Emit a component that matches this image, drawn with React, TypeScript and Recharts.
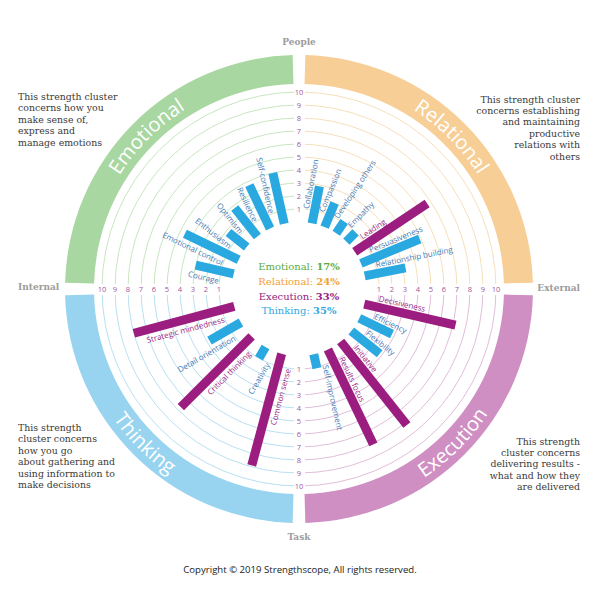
import React from 'react';
import {
  RadialBarChart,
  RadialBar,
  PolarAngleAxis,
  PolarRadiusAxis,
  PolarGrid,
  PieChart,
  Pie,
  Cell,
} from 'recharts';

// ---------------- data ----------------
const emotionalNames = ['Courage', 'Emotional control', 'Enthusiasm', 'Optimism', 'Resilience', 'Self-confidence'];
const emotionalScores = [3, 4.6, 1.8, 2.8, 3.7, 4];

const relationalNames = ['Collaboration', 'Compassion', 'Developing others', 'Empathy', 'Leading', 'Persuasiveness', 'Relationship building'];
const relationalScores = [2.9, 2, 1.1, 1, 6.7, 4.9, 3.2];

const executionNames = ['Decisiveness', 'Efficiency', 'Flexibility', 'Initiative', 'Results focus', 'Self-improvement'];
const executionScores = [7.2, 2.8, 2.8, 8.2, 8.1, 1.1];

const thinkingNames = ['Common sense', 'Creativity', 'Critical thinking', 'Detail orientation', 'Strategic mindedness'];
const thinkingScores = [8.9, 1, 7.7, 2.8, 8];

const topStrengths = ['Leading', 'Decisiveness', 'Initiative', 'Results focus', 'Common sense', 'Critical thinking', 'Strategic mindedness'];

const clusterNames = ['Emotional', 'Relational', 'Execution', 'Thinking'];
const clusterShares = [17, 24, 33, 35];

const scaleTicks = [1, 2, 3, 4, 5, 6, 7, 8, 9, 10];

const descEmotional = ['This strength cluster', 'concerns how you', 'make sense of,', 'express and', 'manage emotions'];
const descRelational = ['This strength cluster', 'concerns establishing', 'and maintaining', 'productive', 'relations with', 'others'];
const descThinking = ['This strength', 'cluster concerns', 'how you go', 'about gathering and', 'using information to', 'make decisions'];
const descExecution = ['This strength', 'cluster concerns', 'delivering results -', 'what and how they', 'are delivered'];

// ---------------- styles ----------------
const W = 600;
const H = 600;
const CX = 299;
const CY = 289;
const R0 = 67;
const R10 = 197;
const BAND_IN = 205;
const BAND_OUT = 234;
const PAD = 3.1;

const BLUE = '#2aa9e0';
const PURPLE = '#9b1d7f';
const BLUE_TEXT = '#3f79b4';
const TICK_COLOR = '#a0559a';
const bandColors = ['#a9d7a1', '#f7cf96', '#cf8fc3', '#98d4f0'];
const ringColors = ['#c2e2ba', '#f5dbb2', '#ddb6d5', '#b0dcef'];
const shareColors = ['#5aac45', '#f0a234', '#962381', '#34a8df'];
const SERIF = '"DejaVu Serif", serif';
const SANS = '"Open Sans", sans-serif';

const GAP_L = 5;
const GAP_R = 6;

const quadrants = [
  { names: emotionalNames, scores: emotionalScores, base: 180, axisAngle: 180,
    clip: { left: 0, top: 0, width: CX - GAP_L, height: CY - GAP_L } },
  { names: relationalNames, scores: relationalScores, base: 90, axisAngle: 90,
    clip: { left: CX + GAP_R, top: 0, width: W - CX - GAP_R, height: CY - GAP_L } },
  { names: executionNames, scores: executionScores, base: 0, axisAngle: 0,
    clip: { left: CX + GAP_R, top: CY + GAP_R, width: W - CX - GAP_R, height: H - CY - GAP_R } },
  { names: thinkingNames, scores: thinkingScores, base: -90, axisAngle: -90,
    clip: { left: 0, top: CY + GAP_R, width: CX - GAP_L, height: H - CY - GAP_R } },
];

const tickRenderer = (props: any) => (
  <text
    x={props.x}
    y={props.y}
    textAnchor="middle"
    dominantBaseline="central"
    fontSize={7.5}
    fontFamily={SANS}
    fill={TICK_COLOR}
  >
    {props.payload?.value}
  </text>
);

const emptyShape = () => <g />;

const barShape = (props: any) => {
  const { cx, cy, innerRadius, outerRadius, startAngle, endAngle, payload } = props;
  const mid = (startAngle + endAngle) / 2;
  const rad = (mid * Math.PI) / 180;
  const ux = Math.cos(rad);
  const uy = -Math.sin(rad);
  const nx = -uy;
  const ny = ux;
  const hw = 4.5;
  const p = (r: number, s: number) => `${cx + r * ux + s * hw * nx},${cy + r * uy + s * hw * ny}`;
  const pts = [p(innerRadius, -1), p(outerRadius, -1), p(outerRadius, 1), p(innerRadius, 1)].join(' ');
  const name: string = payload?.name ?? '';
  const top = topStrengths.includes(name);
  const tx = -Math.sin(rad);
  const ty = -Math.cos(rad);
  const lr = innerRadius + 13;
  const off = 9.5;
  const lx = cx + lr * ux + off * tx;
  const ly = cy + lr * uy + off * ty;
  const right = ux >= 0;
  const rot = right ? -mid : 180 - mid;
  return (
    <g>
      <polygon points={pts} fill={top ? PURPLE : BLUE} />
      <text
        x={lx}
        y={ly}
        transform={`rotate(${rot} ${lx} ${ly})`}
        textAnchor={right ? 'start' : 'end'}
        dominantBaseline="central"
        fontSize={8}
        fontFamily={SANS}
        fill={top ? PURPLE : BLUE_TEXT}
      >
        {name}
      </text>
    </g>
  );
};

const QuadrantChart = ({ q, idx, grid }: { q: any; idx: number; grid: boolean }) => {
  const n = q.names.length;
  const s = 90 / (n + 1);
  // recharts places centric bars one band further toward the start angle,
  // so the category range is shifted back by one band to land bars at (i+1)*s.
  const start = q.base - 1.5 * s;
  const end = q.base - 90 - 0.5 * s;
  const data = q.names.map((name: string, i: number) => ({ name, score: q.scores[i] }));
  return (
    <RadialBarChart
      width={W}
      height={H}
      cx={CX}
      cy={CY}
      innerRadius={R0}
      outerRadius={R10}
      startAngle={start}
      endAngle={end}
      data={data}
      layout="centric"
      margin={{ top: 0, right: 0, bottom: 0, left: 0 }}
    >
      <PolarAngleAxis type="category" dataKey="name" tick={false} axisLine={false} tickLine={false} />
      <PolarRadiusAxis
        type="number"
        domain={[0, 10]}
        ticks={scaleTicks}
        angle={q.axisAngle}
        axisLine={false}
        tick={grid ? false : tickRenderer}
        allowDataOverflow
      />
      {grid && <PolarGrid gridType="circle" radialLines={false} stroke={ringColors[idx]} strokeWidth={0.9} />}
      <RadialBar dataKey="score" isAnimationActive={false} shape={grid ? emptyShape : barShape} />
    </RadialBarChart>
  );
};

const bandData = clusterNames.map((name) => ({ name, span: 1 }));

const bandLabel = (props: any) => {
  const { cx, cy, innerRadius, outerRadius, startAngle, endAngle, midAngle, index } = props;
  const name = props.name ?? props.payload?.name;
  const hi = Math.max(startAngle, endAngle);
  const lo = Math.min(startAngle, endAngle);
  const rm = (innerRadius + outerRadius) / 2;
  const top = midAngle > 0;
  const r = top ? rm - 7 : rm + 7;
  const a1 = top ? hi : lo;
  const a2 = top ? lo : hi;
  const pt = (a: number) => [cx + r * Math.cos((a * Math.PI) / 180), cy - r * Math.sin((a * Math.PI) / 180)];
  const [x1, y1] = pt(a1);
  const [x2, y2] = pt(a2);
  const d = `M ${x1} ${y1} A ${r} ${r} 0 0 ${top ? 1 : 0} ${x2} ${y2}`;
  const id = `band-arc-${index}`;
  return (
    <g key={id}>
      <path id={id} d={d} fill="none" stroke="none" />
      <text fontSize={20} fill="#ffffff" fontFamily={SANS}>
        <textPath href={`#${id}`} startOffset="50%" textAnchor="middle">
          {name}
        </textPath>
      </text>
    </g>
  );
};

const descStyle: React.CSSProperties = {
  position: 'absolute',
  fontFamily: SERIF,
  fontSize: 9.4,
  lineHeight: '11.4px',
  color: '#3a3a3a',
  whiteSpace: 'nowrap',
};

const axisLabelStyle: React.CSSProperties = {
  position: 'absolute',
  fontFamily: SERIF,
  fontWeight: 'bold',
  fontSize: 9,
  lineHeight: '12px',
  color: '#9d9d9d',
};

const abs: React.CSSProperties = { position: 'absolute', left: 0, top: 0, width: W, height: H };

export default function App() {
  return (
    <div style={{ ...abs, background: '#ffffff', overflow: 'hidden' }}>
      {/* ring grids, clipped per quadrant */}
      {quadrants.map((q, i) => (
        <div
          key={`grid-${i}`}
          style={{ position: 'absolute', left: q.clip.left, top: q.clip.top, width: q.clip.width, height: q.clip.height, overflow: 'hidden' }}
        >
          <div style={{ position: 'absolute', left: -q.clip.left, top: -q.clip.top, width: W, height: H }}>
            <QuadrantChart q={q} idx={i} grid />
          </div>
        </div>
      ))}

      {/* outer cluster band */}
      <div style={abs}>
        <PieChart width={W} height={H} margin={{ top: 0, right: 0, bottom: 0, left: 0 }}>
          <Pie
            data={bandData}
            dataKey="span"
            nameKey="name"
            cx={CX}
            cy={CY}
            innerRadius={BAND_IN}
            outerRadius={BAND_OUT}
            startAngle={180 - PAD / 2}
            endAngle={-180 - PAD / 2}
            paddingAngle={PAD}
            stroke="none"
            isAnimationActive={false}
            labelLine={false}
            label={bandLabel}
          >
            {bandData.map((d, i) => (
              <Cell key={d.name} fill={bandColors[i]} />
            ))}
          </Pie>
        </PieChart>
      </div>

      {/* bars + labels + scale ticks */}
      {quadrants.map((q, i) => (
        <div key={`bars-${i}`} style={abs}>
          <QuadrantChart q={q} idx={i} grid={false} />
        </div>
      ))}

      {/* centre text */}
      <div
        style={{
          position: 'absolute',
          left: CX - 100,
          top: 260,
          width: 200,
          textAlign: 'center',
          fontFamily: SERIF,
          fontSize: 10,
          lineHeight: '14.8px',
        }}
      >
        {clusterNames.map((name, i) => (
          <div key={name} style={{ color: shareColors[i] }}>
            {name}: <b>{clusterShares[i]}%</b>
          </div>
        ))}
      </div>

      {/* axis captions */}
      <div style={{ ...axisLabelStyle, left: CX - 50, width: 100, textAlign: 'center', top: 36 }}>People</div>
      <div style={{ ...axisLabelStyle, left: CX - 50, width: 100, textAlign: 'center', top: 531 }}>Task</div>
      <div style={{ ...axisLabelStyle, left: 18, top: 281 }}>Internal</div>
      <div style={{ ...axisLabelStyle, right: 20, top: 282, textAlign: 'right' }}>External</div>

      {/* descriptions */}
      <div style={{ ...descStyle, left: 18, top: 91 }}>
        {descEmotional.map((l) => <div key={l}>{l}</div>)}
      </div>
      <div style={{ ...descStyle, right: 20, top: 93.5, textAlign: 'right' }}>
        {descRelational.map((l) => <div key={l}>{l}</div>)}
      </div>
      <div style={{ ...descStyle, left: 18, top: 422 }}>
        {descThinking.map((l) => <div key={l}>{l}</div>)}
      </div>
      <div style={{ ...descStyle, right: 20, top: 435.5, textAlign: 'right' }}>
        {descExecution.map((l) => <div key={l}>{l}</div>)}
      </div>

      {/* copyright */}
      <div
        style={{
          position: 'absolute',
          left: 0,
          width: W,
          top: 563,
          textAlign: 'center',
          fontFamily: SANS,
          fontSize: 9.6,
          lineHeight: '14px',
          color: '#222222',
        }}
      >
        Copyright © 2019 Strengthscope, All rights reserved.
      </div>
    </div>
  );
}
